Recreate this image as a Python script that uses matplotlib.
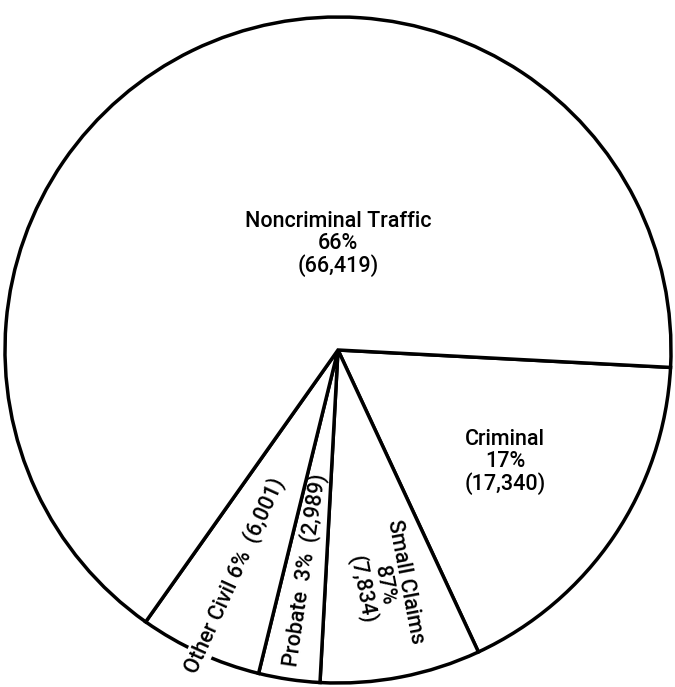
import numpy as np
import matplotlib
matplotlib.use("Agg")
import matplotlib.pyplot as plt

categories = ["Criminal", "Small Claims", "Probate", "Other Civil", "Noncriminal Traffic"]
cases = [17340, 7834, 2989, 6001, 66419]
label_texts = [
    "Criminal\n17%\n(17,340)",
    "Small Claims\n87%\n(7,834)",
    "Probate  3%  (2,989)",
    "Other Civil 6%  (6,001)",
    "Noncriminal Traffic\n66%\n(66,419)",
]

plt.rcParams["font.family"] = ["Roboto", "Liberation Sans", "DejaVu Sans"]

W, H = 675, 687
R = 333
fig = plt.figure(figsize=(W / 100, H / 100), dpi=100)
ax = fig.add_axes([0, 0, 1, 1])

center = (338, H - 350)
wedges, _ = ax.pie(cases, startangle=-3, counterclock=False, center=center,
                   radius=R, frame=True,
                   wedgeprops=dict(facecolor="white", edgecolor="black", linewidth=2.5))
ax.set_xlim(0, W)
ax.set_ylim(0, H)
ax.axis("off")

txt_kw = dict(ha="center", va="center", rotation_mode="anchor",
              fontsize=15.5, fontweight="medium", linespacing=1.05, zorder=5)

# flat labels, image pixel positions (x, y from top)
ax.text(505, H - 462, label_texts[0], **txt_kw)
ax.text(338, H - 244, label_texts[4], **txt_kw)

# radial labels along the middle of their wedge: (index, distance from centre, rotation offset)
for i, dist, off in [(1, 240, 0), (2, 222, 180), (3, 248, 180)]:
    w = wedges[i]
    mid = np.deg2rad((w.theta1 + w.theta2) / 2)
    x = center[0] + dist * np.cos(mid)
    y = center[1] + dist * np.sin(mid)
    t = ax.text(x, y, label_texts[i], rotation=np.rad2deg(mid) + off, **txt_kw)
    if i == 3:
        t.set_bbox(dict(facecolor="white", edgecolor="none", pad=1))

fig.savefig("out.png", dpi=100)
